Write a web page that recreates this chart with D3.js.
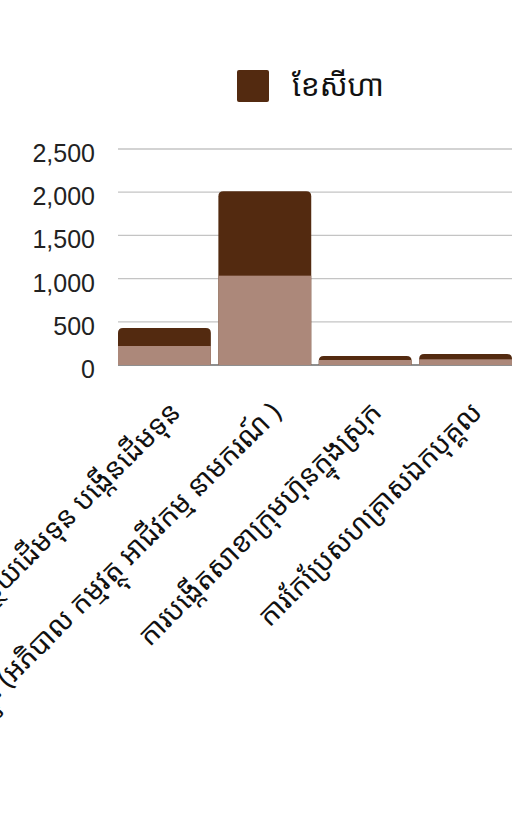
<!DOCTYPE html>
<html>
<head>
<meta charset="utf-8">
<script src="https://cdn.jsdelivr.net/npm/d3@7"></script>
<style>
  html, body { margin: 0; padding: 0; background: #fff; }
  svg { display: block; }
</style>
</head>
<body>
<svg id="chart" width="526" height="820"></svg>
<script>
const categories = [
  "ការបន្ថយដើមទុន បង្កើនដើមទុន",
  "ការផ្លាស់ប្ដូរ (អភិបាល កម្មវត្ថុ អាជីវកម្ម នាមករណ៍ )",
  "ការបង្កើតសាខាក្រុមហ៊ុនក្នុងស្រុក",
  "ការកែប្រែសហគ្រាសឯកបុគ្គល"
];
const augustValues = [428, 2010, 104, 127];
const baseValues = [220, 1034, 58, 66];
const legendLabel = "ខែសីហា";
const yTicks = [0, 500, 1000, 1500, 2000, 2500];

const darkColor = "#532a10";
const lightColor = "#ac887a";
const khmerFont = "'Noto Sans Khmer', 'Khmer OS', 'Noto Sans', sans-serif";

const svg = d3.select("#chart");

const x = d3.scaleBand().domain(categories).range([118, 512]).paddingInner(0.075).paddingOuter(0);
const y = d3.scaleLinear().domain([0, 2500]).range([365, 149]);

// gridlines
svg.append("g").selectAll("line").data(yTicks.filter(d => d > 0)).join("line")
  .attr("x1", 118).attr("x2", 512)
  .attr("y1", d => y(d)).attr("y2", d => y(d))
  .attr("stroke", "#c4c4c4").attr("stroke-width", 1.3);

// y axis labels
const yAxis = d3.axisLeft(y).tickValues(yTicks).tickFormat(d3.format(",")).tickSize(0).tickPadding(0);
const gy = svg.append("g").attr("transform", "translate(95,0)").call(yAxis);
gy.select(".domain").remove();
gy.selectAll("text")
  .attr("font-family", "'Liberation Sans', Arial, Helvetica, sans-serif")
  .attr("font-size", 25)
  .attr("fill", "#222")
  .attr("dy", "0.5em");

// baseline
svg.append("line").attr("x1", 118).attr("x2", 512).attr("y1", y(0)).attr("y2", y(0))
  .attr("stroke", "#6a6a6a").attr("stroke-width", 1.5);

// dark bars with rounded top corners
const r = 5;
function topRounded(x0, y0, w, h, rad) {
  const rr = Math.min(rad, h, w / 2);
  return `M${x0},${y0 + h}V${y0 + rr}Q${x0},${y0} ${x0 + rr},${y0}H${x0 + w - rr}Q${x0 + w},${y0} ${x0 + w},${y0 + rr}V${y0 + h}Z`;
}
svg.append("g").selectAll("path").data(categories).join("path")
  .attr("d", (c, i) => topRounded(x(c), y(augustValues[i]), x.bandwidth(), y(0) - y(augustValues[i]), r))
  .attr("fill", darkColor);

svg.append("g").selectAll("rect").data(categories).join("rect")
  .attr("x", c => x(c))
  .attr("y", (c, i) => y(baseValues[i]))
  .attr("width", x.bandwidth())
  .attr("height", (c, i) => y(0) - y(baseValues[i]))
  .attr("fill", lightColor);

// category labels
svg.append("g").selectAll("text").data(categories).join("text")
  .attr("transform", c => `translate(${x(c) + x.bandwidth() / 2 + 18},${414}) rotate(-45)`)
  .attr("text-anchor", "end")
  .attr("font-family", khmerFont)
  .attr("font-size", 28)
  .attr("fill", "#111")
  .text(c => c);

// legend
svg.append("rect").attr("x", 237).attr("y", 70).attr("width", 32).attr("height", 32).attr("rx", 2).attr("fill", darkColor);
svg.append("text").attr("x", 292).attr("y", 96)
  .attr("font-family", khmerFont).attr("font-size", 30).attr("fill", "#111")
  .text(legendLabel);
</script>
</body>
</html>
